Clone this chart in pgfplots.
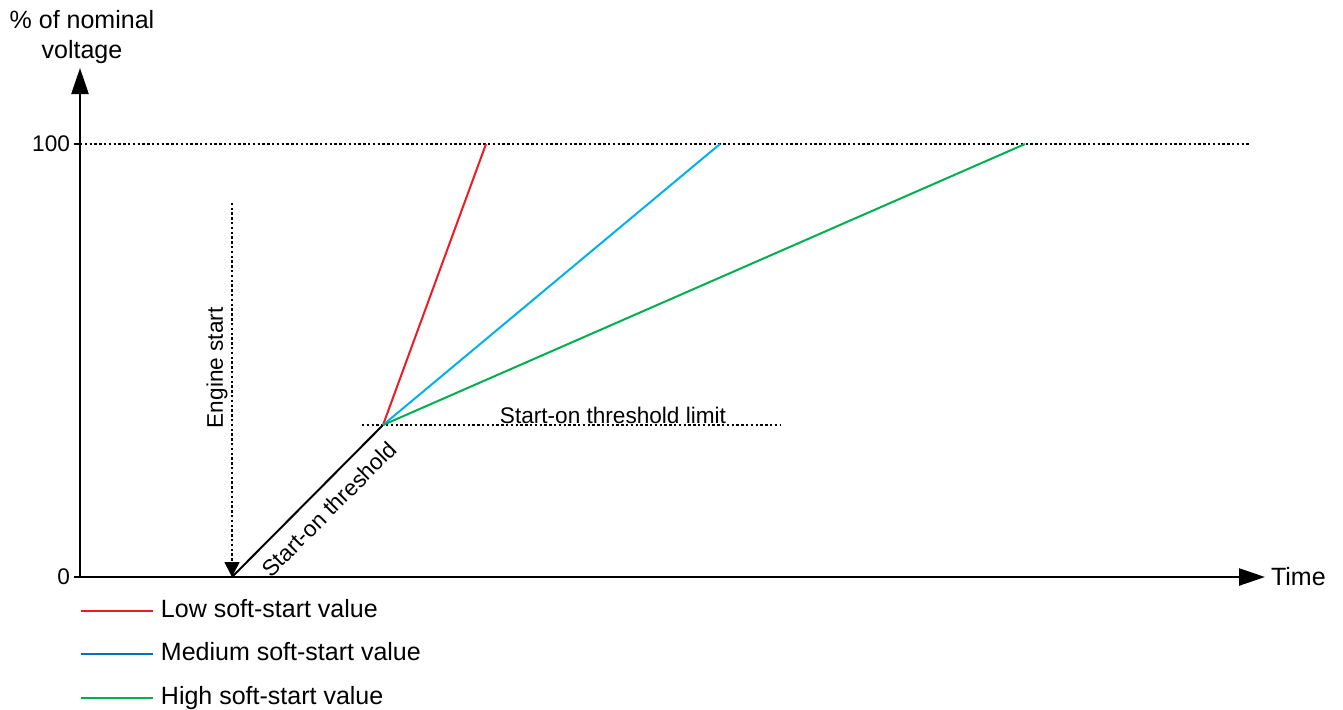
\documentclass[border=0pt]{standalone}
\usepackage{fontspec}
\setmainfont{Liberation Sans}
\usepackage{pgfplots}
\pgfplotsset{compat=1.18}
\usetikzlibrary{arrows.meta}
\definecolor{cRed}{HTML}{ED1C24}
\definecolor{cCyan}{HTML}{00B0F0}
\definecolor{cGreen}{HTML}{00B050}
\definecolor{cBlue}{HTML}{0070C0}
\newcommand\f{\fontsize{12.5}{15}\selectfont}
\newcommand\fs{\fontsize{11.3}{13.5}\selectfont}
\begin{document}
\begin{tikzpicture}[font=\f]
\begin{axis}[
  x=5pt, y=2.165pt,
  xmin=0, xmax=118.5, ymin=0, ymax=117.55,
  axis lines=left,
  axis line style={line width=1.2pt, -{Triangle[length=13pt,width=8.5pt]}},
  xtick=\empty, ytick={0,100},
  tick align=outside, major tick length=3pt,
  tick style={line width=0.8pt, black},
  yticklabel style={font=\fs, xshift=1.5pt},
  /pgf/number format/assume math mode=true,
  clip=false,
  legend style={at={(axis cs:0,-5.08)}, anchor=north west, draw=none, fill=none,
    inner sep=0pt, outer sep=0pt, row sep=10.25pt, font=\f,
    nodes={inner sep=0pt, text height=9pt, text depth=2.5pt},
    /tikz/every odd column/.append style={column sep=3.5pt}},
  legend cell align=left,
  legend image code/.code={\draw[#1] (0pt,0pt) -- (36pt,0pt);},
]
\addlegendimage{cRed, line width=1pt}
\addlegendentry{Low soft-start value}
\addlegendimage{cBlue, line width=1pt}
\addlegendentry{Medium soft-start value}
\addlegendimage{cGreen, line width=1pt}
\addlegendentry{High soft-start value}

% reference dotted lines
\addplot[forget plot, black, line width=0.8pt, dash pattern=on 1.2pt off 1.2pt] coordinates {(0,100) (117,100)};
\addplot[forget plot, black, line width=0.8pt, dash pattern=on 1.2pt off 1.2pt] coordinates {(28.2,35.1) (70,35.1)};
% engine start arrow
\addplot[forget plot, black, line width=0.8pt, dash pattern=on 1.2pt off 1.2pt, -{Triangle[length=7.5pt,width=7.5pt]}] coordinates {(15.2,86.4) (15.2,0)};
% start-on threshold ramp
\addplot[forget plot, black, line width=1pt] coordinates {(15.2,0) (30.3,35.1)};
% soft-start ramps
\addplot[forget plot, cRed, line width=1pt] coordinates {(30.3,35.1) (40.6,100)};
\addplot[forget plot, cCyan, line width=1pt] coordinates {(30.3,35.1) (64.0,100)};
\addplot[forget plot, cGreen, line width=1pt] coordinates {(30.3,35.1) (94.5,100)};

\node[align=center, font=\f] at (axis cs:0.2,124.7) {\% of nominal\\voltage};
\node[anchor=west, font=\f] at (axis cs:118.4,0) {Time};
\node[rotate=90, font=\fs] at (axis cs:13.7,48.3) {Engine start};
\node[rotate=45, font=\fs] at (axis cs:24.9,15.7) {Start-on threshold};
\node[font=\fs] at (axis cs:53.3,37.4) {Start-on threshold limit};
\path (axis cs:-8,133.26) rectangle (axis cs:126.3,-30.48);
\end{axis}
\end{tikzpicture}
\end{document}
